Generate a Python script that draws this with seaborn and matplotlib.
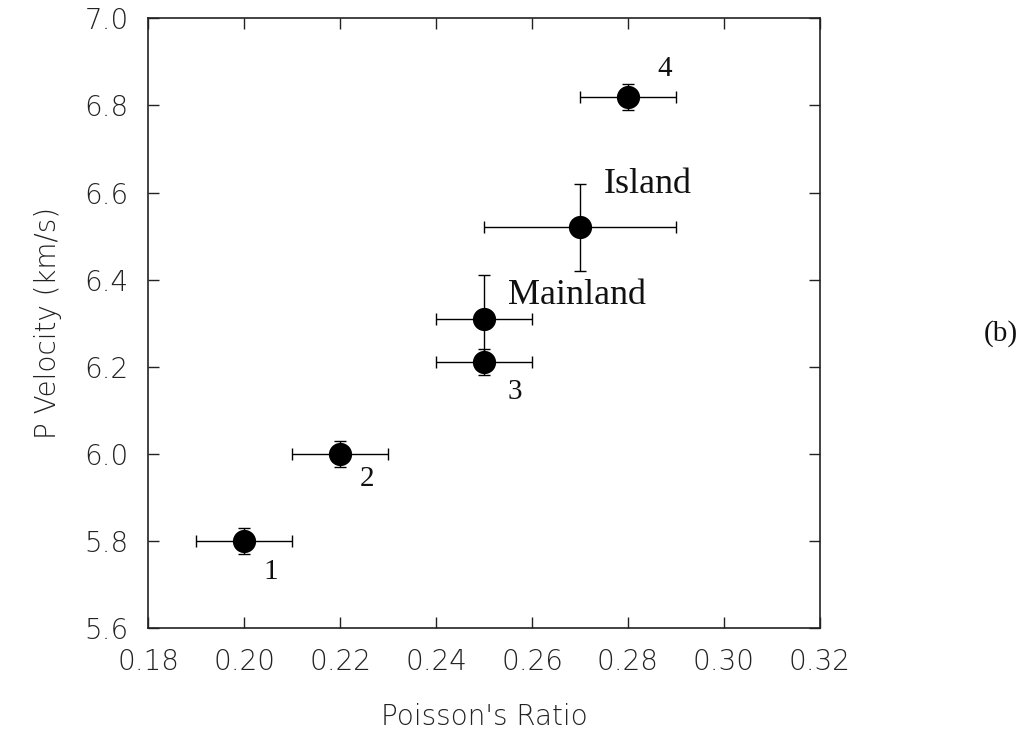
"""P velocity versus Poisson's ratio, panel (b)."""

import matplotlib

matplotlib.use("Agg")
import matplotlib.pyplot as plt
import pandas as pd
import seaborn as sns

# values
labels = ["1", "2", "3", "Mainland", "Island", "4"]
poisson = [0.20, 0.22, 0.25, 0.25, 0.27, 0.28]
velocity = [5.80, 6.00, 6.21, 6.31, 6.52, 6.82]
poisson_err = [0.01, 0.01, 0.01, 0.01, 0.02, 0.01]
velocity_err = [0.03, 0.03, 0.03, 0.10, 0.10, 0.03]

# label offsets in points from each point
label_offsets = [(14, -22), (14, -18), (17, -21), (17, 17), (17, 31), (21, 20)]
label_sizes = [21, 21, 21, 26, 26, 21]

x_ticks = [0.18, 0.20, 0.22, 0.24, 0.26, 0.28, 0.30, 0.32]
y_ticks = [5.6, 5.8, 6.0, 6.2, 6.4, 6.6, 6.8, 7.0]

df = pd.DataFrame({"label": labels, "poisson": poisson, "velocity": velocity,
                   "xerr": poisson_err, "yerr": velocity_err})

sns.set_theme(style="ticks")
plt.rcParams["font.family"] = ["DejaVu Sans"]
plt.rcParams["font.weight"] = "light"
plt.rcParams["axes.labelweight"] = "light"

fig = plt.figure(figsize=(10.21, 7.32), dpi=100)
ax = fig.add_axes([0.145, 0.142, 0.658, 0.833])

ax.errorbar(df["poisson"], df["velocity"], xerr=df["xerr"], yerr=df["yerr"],
            fmt="none", ecolor="black", elinewidth=1.0, capsize=4.5, capthick=1.0, zorder=2)
sns.scatterplot(data=df, x="poisson", y="velocity", ax=ax, s=280, color="black",
                edgecolor="black", linewidth=0, zorder=3, legend=False)

for row, (dx, dy), size in zip(df.itertuples(), label_offsets, label_sizes):
    ax.annotate(row.label, (row.poisson, row.velocity), xytext=(dx, dy),
                textcoords="offset points", ha="left", va="center",
                fontsize=size, family="Liberation Serif", color="#111111")

ax.set_xlim(x_ticks[0], x_ticks[-1])
ax.set_ylim(y_ticks[0], y_ticks[-1])
ax.set_xticks(x_ticks)
ax.set_yticks(y_ticks)
ax.set_xticklabels([f"{t:.2f}" for t in x_ticks])
ax.set_yticklabels([f"{t:.1f}" for t in y_ticks])
ax.tick_params(direction="in", length=8, width=1.0, top=True, right=True,
               labelsize=20, colors="#222222")
ax.tick_params(axis="x", pad=14)
ax.tick_params(axis="y", pad=14)
for spine in ax.spines.values():
    spine.set_linewidth(1.2)
    spine.set_color("#222222")

ax.set_xlabel("Poisson's Ratio", fontsize=20, labelpad=20, color="#222222")
ax.set_ylabel("P Velocity (km/s)", fontsize=20, labelpad=16, color="#222222")

fig.text(0.997, 0.545, "(b)", fontsize=21, family="Liberation Serif",
         ha="right", va="center", color="#111111")

fig.savefig("out.png", dpi=100)
